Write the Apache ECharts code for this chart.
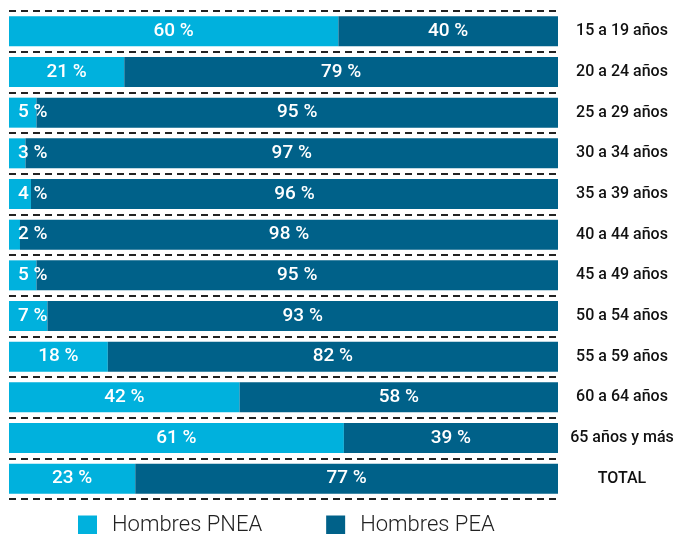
<!DOCTYPE html>
<html>
<head>
<meta charset="utf-8">
<script src="https://cdn.jsdelivr.net/npm/echarts@6/dist/echarts.min.js"></script>
<style>
html,body{margin:0;padding:0;background:#fff;}
#chart{width:677px;height:534px;}
</style>
</head>
<body>
<div id="chart"></div>
<script>
// categorías (grupos de edad)
var categorias = ["15 a 19 años","20 a 24 años","25 a 29 años","30 a 34 años","35 a 39 años","40 a 44 años","45 a 49 años","50 a 54 años","55 a 59 años","60 a 64 años","65 años y más","TOTAL"];
// porcentajes
var pnea = [60,21,5,3,4,2,5,7,18,42,61,23];
var pea = [40,79,95,97,96,98,95,93,82,58,39,77];

var claro = "#00b1dd";
var oscuro = "#006189";
var fuente = "Roboto, 'Noto Sans', sans-serif";

//los valores chicos van pegados a la izquierda
function datosPnea(){
	var arr = [];
	for(var i=0;i<pnea.length;i++){
		if(pnea[i] < 10){
			arr.push({value:pnea[i], label:{position:"insideLeft", distance:9}});
		}else{
			arr.push(pnea[i]);
		}
	}
	return arr;
}

var etiqueta = {show:true,position:"inside",formatter:"{c} %",color:"#fff",fontFamily:fuente,fontSize:19,fontWeight:500};

var chart = echarts.init(document.getElementById("chart"));
var option = {
	animation:false,
	grid:{left:9,right:119,top:11,bottom:35,outerBoundsMode:"none"},
	legend:{
		left:73,
		top:509,
		icon:"rect",
		itemWidth:19,
		itemHeight:19,
		itemGap:64,
		textStyle:{fontFamily:fuente,fontSize:22,fontWeight:300,color:"#222",padding:[0,0,0,10]},
		data:["Hombres PNEA","Hombres PEA"]
	},
	xAxis:{type:"value",min:0,max:100,show:false},
	yAxis:{
		type:"category",
		inverse:true,
		position:"right",
		data:categorias,
		axisLine:{show:false},
		axisTick:{show:false},
		axisLabel:{
			align:"center",
			margin:64,
			fontFamily:fuente,
			fontSize:16,
			fontWeight:500,
			color:"#111"
		},
		splitLine:{
			show:true,
			lineStyle:{color:"#222",width:2,type:[7,5]}
		}
	},
	series:[
		{
			name:"Hombres PNEA",
			type:"bar",
			stack:"total",
			barWidth:30,
			itemStyle:{color:claro},
			label:etiqueta,
			data:datosPnea()
		},
		{
			name:"Hombres PEA",
			type:"bar",
			stack:"total",
			barWidth:30,
			itemStyle:{color:oscuro},
			label:etiqueta,
			data:pea
		}
	]
};
chart.setOption(option);
</script>
</body>
</html>
